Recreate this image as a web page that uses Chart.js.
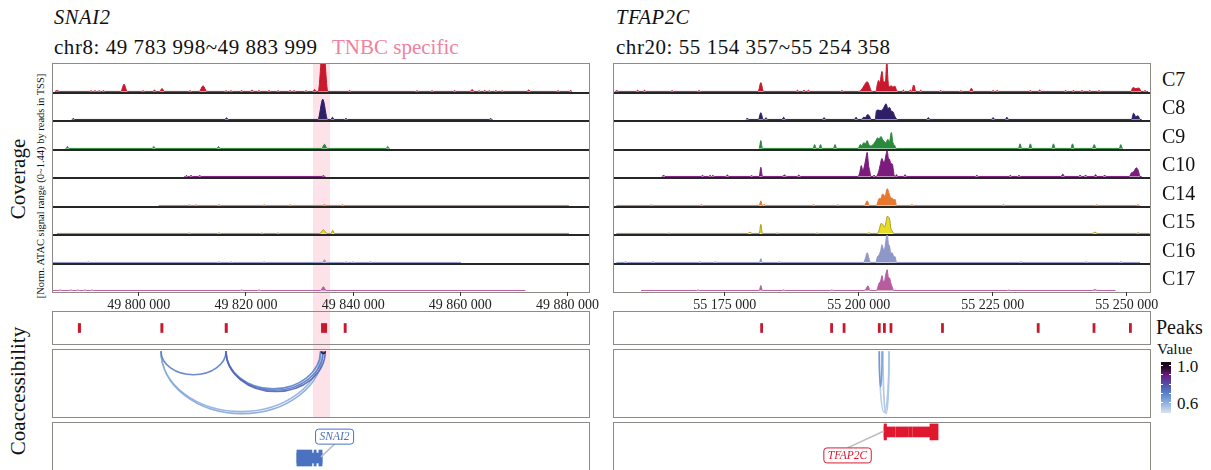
<!DOCTYPE html>
<html>
<head>
<meta charset="utf-8">
<script src="https://cdn.jsdelivr.net/npm/chart.js@4.4.1/dist/chart.umd.min.js"></script>
<style>
  body { margin:0; width:1211px; height:470px; overflow:hidden; background:#fff;
         font-family:"Liberation Serif","DejaVu Serif",serif; color:#111; position:relative; }
  .box { position:absolute; box-sizing:border-box; border:1.5px solid #8e8a86; }
  .sep { position:absolute; height:1.5px; background:#262626; }
  .txt { position:absolute; white-space:nowrap; line-height:1; }
  .rot { position:absolute; white-space:nowrap; line-height:1; transform:translate(-50%,-50%) rotate(-90deg); }
  canvas { position:absolute; }
</style>
</head>
<body>
<div id="band" style="position:absolute;left:313px;top:64px;width:17px;height:353px;background:#fde3e9"></div>

<div class="txt" style="left:54px;top:7px;font-size:20.5px;font-style:italic;letter-spacing:0.6px">SNAI2</div>
<div class="txt" style="left:54px;top:37px;font-size:21px;letter-spacing:0.55px">chr8: 49 783 998~49 883 999</div>
<div class="txt" style="left:332px;top:37px;font-size:21px;color:#f2819f">TNBC specific</div>
<div class="txt" style="left:616px;top:7px;font-size:20.5px;font-style:italic;letter-spacing:0.6px">TFAP2C</div>
<div class="txt" style="left:616px;top:37px;font-size:21px;letter-spacing:0.55px">chr20: 55 154 357~55 254 358</div>

<div class="rot" style="left:18px;top:179px;font-size:21px">Coverage</div>
<div class="rot" style="left:41px;top:186px;font-size:10.5px">[Norm. ATAC signal range (0~1.44) by reads in TSS]</div>
<div class="rot" style="left:18px;top:391px;font-size:21px">Coaccessibility</div>

<div class="txt" style="left:1156px;top:317px;font-size:20px">Peaks</div>
<div class="txt" style="left:1157px;top:341px;font-size:15.5px">Value</div>
<div id="cbar" style="position:absolute;left:1161px;top:362px;width:10px;height:51px"></div>
<div class="txt" style="left:1177px;top:358px;font-size:17px">1.0</div>
<div class="txt" style="left:1177px;top:395px;font-size:17px">0.6</div>

<div id="root"></div>

<script>
// ---- tracks ----
const trackNames = ['C7', 'C8', 'C9', 'C10', 'C14', 'C15', 'C16', 'C17'];
const trackColors = ['#c8182d', '#2f1f66', '#2a8a3c', '#7b1b7b', '#e6792e', '#e8dc26', '#8e97c8', '#b85ca0'];
const lineColors  = ['#c8182d', '#2f1f66', '#2a8a3c', '#7b1b7b', '#e6792e', '#a89a1c', '#8e97c8', '#b85ca0'];

// ---- SNAI2 region ----
const snaiRange = [49783998, 49883999];
const snaiTicks = [49800000, 49820000, 49840000, 49860000, 49880000];
const snaiSpans = [
  [49784370, 49880850], [49787500, 49866000], [49786300, 49846800], [49808500, 49834800],
  [49803700, 49880250], [49784750, 49880250], [49784000, 49860110], [49784000, 49872130]
];
// isolated peaks: [centre bp, signal, half width bp]
const snaiPeaks = [
  [[49784750, 0.05, 400], [49791100, 0.04, 250], [49791840, 0.04, 250], [49792600, 0.04, 250], [49793400, 0.04, 250],
   [49797250, 0.38, 600], [49800800, 0.04, 250], [49802940, 0.07, 300], [49804340, 0.16, 400], [49809560, 0.04, 250],
   [49811990, 0.30, 700], [49816280, 0.04, 250], [49817200, 0.04, 250], [49819170, 0.05, 250], [49821130, 0.08, 300],
   [49822400, 0.05, 250], [49824300, 0.05, 250], [49826000, 0.04, 250], [49828220, 0.05, 250], [49829000, 0.04, 250],
   [49831210, 0.04, 250], [49832815, 0.10, 350], [49834380, 2.60, 900], [49839330, 0.05, 250], [49851920, 0.04, 250],
   [49854720, 0.04, 250], [49858940, 0.04, 250], [49862190, 0.10, 350], [49863500, 0.04, 200], [49864540, 0.05, 250],
   [49865400, 0.05, 200], [49866610, 0.05, 250], [49867800, 0.04, 200], [49872770, 0.09, 300], [49878230, 0.04, 250],
   [49880570, 0.05, 250]],
  [[49787790, 0.05, 250], [49816380, 0.09, 300], [49834330, 1.10, 900], [49836140, 0.12, 300], [49838670, 0.06, 250],
   [49865640, 0.05, 250]],
  [[49786690, 0.10, 300], [49802810, 0.10, 300], [49814880, 0.10, 300], [49834640, 0.22, 500], [49846460, 0.10, 300]],
  [[49808910, 0.06, 200], [49809750, 0.06, 250], [49811370, 0.05, 250], [49834440, 0.05, 250]],
  [[49809430, 0.03, 250], [49810720, 0.03, 250], [49814960, 0.04, 250], [49823390, 0.03, 250], [49828260, 0.03, 250],
   [49834640, 0.05, 250], [49838020, 0.04, 250]],
  [[49809430, 0.03, 250], [49814960, 0.04, 250], [49823000, 0.03, 250], [49826000, 0.03, 250], [49834440, 0.20, 650],
   [49836190, 0.17, 300]],
  [[49790590, 0.03, 250], [49814960, 0.03, 250], [49817200, 0.03, 250], [49823390, 0.03, 250], [49834640, 0.14, 350],
   [49838670, 0.03, 250], [49839960, 0.03, 250], [49843210, 0.03, 250]],
  [[49785380, 0.03, 250], [49787340, 0.03, 250], [49788650, 0.03, 250], [49789930, 0.03, 250], [49791240, 0.03, 250],
   [49819170, 0.03, 250], [49822420, 0.03, 250], [49834440, 0.20, 500]]
];
const snaiClusters = [[], [], [], [], [], [], [], []];

// ---- TFAP2C region ----
const tfapRange = [55154357, 55254358];
const tfapTicks = [55175000, 55200000, 55225000, 55250000];
const tfapSpans = [
  [55154500, 55254000], [55179000, 55252800], [55181400, 55249300], [55163300, 55252800],
  [55154800, 55252500], [55154800, 55254300], [55154800, 55252500], [55159400, 55247940]
];
const tfapPeaks = [
  [[55154900, 0.05, 300], [55158760, 0.06, 250], [55160050, 0.06, 250], [55165200, 0.05, 250], [55170220, 0.05, 250],
   [55181750, 0.46, 500], [55188580, 0.06, 250], [55189800, 0.07, 250], [55190640, 0.06, 250], [55196890, 0.05, 250],
   [55208340, 0.07, 250], [55209630, 0.08, 200], [55210280, 0.34, 400], [55211570, 0.06, 250], [55215300, 0.04, 250],
   [55219090, 0.04, 250], [55221030, 0.17, 350], [55225080, 0.05, 250], [55225870, 0.05, 250], [55232040, 0.05, 250],
   [55233780, 0.08, 250], [55238610, 0.05, 250], [55240080, 0.05, 250], [55241690, 0.05, 250], [55243110, 0.05, 250],
   [55244840, 0.05, 250], [55253430, 0.05, 250]],
  [[55179230, 0.08, 220], [55181750, 0.37, 450], [55182720, 0.10, 250], [55186010, 0.12, 300], [55193550, 0.10, 300],
   [55199520, 0.12, 300], [55212990, 0.10, 300], [55225080, 0.10, 300], [55227660, 0.12, 300]],
  [[55181750, 0.41, 300], [55191790, 0.20, 300], [55192890, 0.20, 300], [55195600, 0.20, 300], [55230120, 0.24, 300],
   [55232040, 0.24, 300], [55236350, 0.24, 300], [55239900, 0.24, 300], [55243950, 0.20, 350], [55248910, 0.20, 300]],
  [[55163600, 0.08, 250], [55170870, 0.06, 250], [55172290, 0.06, 250], [55172800, 0.06, 240], [55175500, 0.08, 300],
   [55180020, 0.05, 250], [55181750, 0.50, 300], [55186150, 0.08, 400], [55188840, 0.08, 300], [55202880, 0.08, 200],
   [55207060, 0.10, 200], [55208660, 0.10, 250], [55222060, 0.07, 250], [55228310, 0.06, 250], [55229910, 0.06, 250],
   [55238090, 0.13, 300], [55241320, 0.08, 250], [55242340, 0.08, 250], [55244210, 0.10, 250], [55245890, 0.08, 250]],
  [[55161340, 0.03, 250], [55170670, 0.04, 250], [55181750, 0.24, 300], [55182390, 0.06, 200], [55191600, 0.04, 250],
   [55196100, 0.03, 250], [55209950, 0.04, 250], [55227020, 0.04, 250], [55244400, 0.03, 250], [55252140, 0.04, 250]],
  [[55164570, 0.02, 250], [55179700, 0.07, 400], [55181750, 0.50, 280], [55184850, 0.03, 250], [55192240, 0.03, 250],
   [55201910, 0.05, 200], [55244080, 0.08, 400], [55252140, 0.04, 250]],
  [[55156510, 0.04, 250], [55161660, 0.04, 250], [55170350, 0.04, 250], [55173240, 0.03, 250], [55181750, 0.20, 250],
   [55185170, 0.03, 250], [55230230, 0.04, 250], [55242470, 0.03, 250], [55248910, 0.04, 250]],
  [[55170000, 0.03, 250], [55181750, 0.27, 280], [55186000, 0.03, 250], [55195000, 0.03, 250], [55228000, 0.02, 250],
   [55244080, 0.05, 400]]
];
// dense peak groups, read point by point: [bp, signal]
const tfapClusters = [
  [[[55200000, 0], [55200600, 0.12], [55201000, 0.30], [55201570, 0.51], [55202000, 0.30], [55202300, 0.05], [55202600, 0]],
   [[55203200, 0], [55203510, 0.40], [55203710, 0.58], [55203950, 0.45], [55204350, 1.05], [55204650, 0.50], [55205000, 0.50],
    [55205250, 1.60], [55205500, 0.50], [55205800, 0.25], [55206090, 0.30], [55206400, 0.22], [55206740, 0.28], [55207100, 0.05], [55207300, 0]],
   [[55250800, 0], [55251170, 0.20], [55251700, 0.15], [55252330, 0.18], [55252700, 0]]],
  [[[55200500, 0], [55200940, 0.12], [55201300, 0.10], [55201590, 0.25], [55202000, 0.20], [55202300, 0]],
   [[55203100, 0], [55203300, 0.45], [55203510, 0.51], [55203800, 0.50], [55204160, 0.48], [55204600, 0.60], [55205120, 0.85],
    [55205450, 0.60], [55205770, 0.65], [55206100, 0.45], [55206420, 0.42], [55206700, 0.20], [55206930, 0.08], [55207200, 0]],
   [[55250900, 0], [55251300, 0.34], [55251700, 0.15], [55252140, 0.20], [55252500, 0]]],
  [[[55199900, 0], [55200300, 0.20], [55200600, 0.15], [55200940, 0.30], [55201300, 0.25], [55201590, 0.41], [55201900, 0.20],
    [55202230, 0.13], [55202500, 0.15], [55202880, 0.27], [55203200, 0.40], [55203510, 0.55], [55203800, 0.50], [55204160, 0.63],
    [55204500, 0.45], [55204800, 0.35], [55205100, 0.30], [55205450, 0.48], [55205750, 0.35], [55206090, 0.84], [55206400, 0.30],
    [55206740, 0.15], [55207000, 0]]],
  [[[55199900, 0], [55200200, 0.20], [55200490, 0.59], [55200750, 0.35], [55200940, 0.42], [55201300, 0.90], [55201590, 1.31],
    [55201850, 0.60], [55202040, 0.34], [55202300, 0]],
   [[55203300, 0], [55203710, 0.25], [55204000, 0.60], [55204350, 0.98], [55204600, 0.80], [55204800, 0.78], [55205050, 1.10],
    [55205320, 1.41], [55205550, 1.00], [55205770, 0.93], [55206000, 0.70], [55206290, 0.68], [55206500, 0.30], [55206610, 0.08], [55206800, 0]],
   [[55250500, 0], [55250900, 0.20], [55251300, 0.25], [55251800, 0.47], [55252200, 0.30], [55252500, 0]]],
  [[[55201100, 0], [55201590, 0.24], [55202000, 0]],
   [[55203300, 0], [55203850, 0.37], [55204100, 0.35], [55204480, 0.60], [55204930, 0.48], [55205320, 0.88], [55205770, 0.55],
    [55206000, 0.40], [55206290, 0.38], [55206550, 0.30], [55206800, 0.32], [55207060, 0]]],
  [[[55203500, 0], [55203850, 0.20], [55204160, 0.54], [55204480, 0.50], [55204800, 0.35], [55205100, 0.60], [55205320, 0.93],
    [55205600, 0.88], [55205770, 0.80], [55206000, 0.30], [55206290, 0.12], [55206550, 0]]],
  [[[55200900, 0], [55201300, 0.25], [55201590, 0.51], [55201900, 0.25], [55202200, 0]],
   [[55203200, 0], [55203500, 0.30], [55203850, 0.42], [55204100, 0.60], [55204350, 0.93], [55204600, 0.70], [55204800, 0.65],
    [55205050, 1.10], [55205320, 1.50], [55205550, 1.00], [55205770, 0.85], [55206000, 0.50], [55206290, 0.50], [55206550, 0.30],
    [55206800, 0.30], [55207060, 0]]],
  [[[55201000, 0], [55201400, 0.10], [55201750, 0.25], [55202100, 0]],
   [[55203300, 0], [55203850, 0.42], [55204100, 0.50], [55204350, 0.81], [55204600, 0.50], [55204800, 0.50], [55205050, 0.85],
    [55205320, 1.13], [55205550, 0.70], [55205770, 0.68], [55206000, 0.40], [55206290, 0.17], [55206500, 0]]]
];

// ---- called peaks [start, end] ----
const snaiPeakCalls = [[49788700, 49789150], [49804100, 49804520], [49816100, 49816540], [49834070, 49834550],
  [49834600, 49835070], [49838300, 49838720]];
const tfapPeakCalls = [[55181700, 55182100], [55194750, 55195150], [55197080, 55197480], [55203650, 55204050],
  [55204600, 55205000], [55205830, 55206230], [55215440, 55215840], [55233300, 55233700], [55243710, 55244110],
  [55250500, 55250900]];

// ---- co-accessibility links ----
const snaiLinkStart = [49804150, 49804150, 49816280, 49816280, 49816280, 49804150, 49834070];
const snaiLinkEnd   = [49834000, 49834380, 49833900, 49834380, 49834800, 49816280, 49834800];
const snaiLinkValue = [0.60, 0.62, 0.70, 0.72, 0.76, 0.71, 0.98];
const snaiLinkDepth = [0.92, 0.95, 0.58, 0.60, 0.62, 0.37, 0.05];
const tfapLinkStart = [55203850, 55204550, 55203850];
const tfapLinkEnd   = [55205670, 55205670, 55204370];
const tfapLinkValue = [0.55, 0.56, 0.66];
const tfapLinkDepth = [0.93, 0.95, 0.55];

// ---- colour scale (Value) ----
const valueStops  = [0.49, 0.58, 0.69, 0.79, 0.90, 0.97, 1.04];
const valueColors = ['#d8e3f2', '#9cb8e2', '#5b88cc', '#5054ae', '#6a1a80', '#2c0b30', '#120812'];

// ---- genes ----
const snaiGeneBody  = [[49829500, 49834200]];
const snaiGeneExons = [[49829500, 49832300], [49832700, 49833100], [49833600, 49834200]];
const tfapGeneBody  = [[55204740, 55206750], [55206900, 55208600], [55208700, 55209300], [55209400, 55210000], [55210100, 55213300]];
const tfapGeneExons = [[55204740, 55205200], [55213300, 55214820]];

// ---- helpers ----
function hexToRgb(h) { return [1, 3, 5].map(i => parseInt(h.substr(i, 2), 16)); }
function valueColor(v) {
  let i = 0;
  while (i < valueStops.length - 2 && v > valueStops[i + 1]) i++;
  const t = Math.max(0, Math.min(1, (v - valueStops[i]) / (valueStops[i + 1] - valueStops[i])));
  const a = hexToRgb(valueColors[i]), b = hexToRgb(valueColors[i + 1]);
  const c = a.map((x, k) => Math.round(x + (b[k] - x) * t));
  return `rgb(${c[0]},${c[1]},${c[2]})`;
}
function fmt(v) { return String(v).replace(/\B(?=(\d{3})+(?!\d))/g, ' '); }

function buildTrack(span, peaks, clusters) {
  const pts = [{x: span[0], y: 0}, {x: span[1], y: 0}];
  peaks.forEach(([c, h, w]) => pts.push({x: c - w, y: 0}, {x: c, y: h}, {x: c + w, y: 0}));
  clusters.forEach(cl => cl.forEach(([x, y]) => pts.push({x, y})));
  pts.sort((a, b) => a.x - b.x);
  const out = [];
  pts.forEach(p => {
    const last = out[out.length - 1];
    if (last && last.x === p.x) last.y = Math.max(last.y, p.y);
    else out.push({x: p.x, y: p.y});
  });
  return out;
}

function makeCanvas(left, top, w, h) {
  const cv = document.createElement('canvas');
  cv.width = w; cv.height = h;
  cv.style.left = left + 'px'; cv.style.top = top + 'px';
  cv.style.width = w + 'px'; cv.style.height = h + 'px';
  document.getElementById('root').appendChild(cv);
  return cv;
}
function addDiv(cls, css) {
  const d = document.createElement('div');
  d.className = cls;
  d.style.cssText = css;
  document.getElementById('root').appendChild(d);
  return d;
}

function baseOptions(range, yMin, yMax, extra) {
  return Object.assign({
    responsive: false,
    animation: false,
    devicePixelRatio: 1,
    events: [],
    layout: {padding: 0},
    plugins: {legend: {display: false}, tooltip: {enabled: false}},
    scales: {
      x: {type: 'linear', min: range[0], max: range[1], display: false},
      y: {type: 'linear', min: yMin, max: yMax, display: false}
    }
  }, extra || {});
}

// arcs hanging from the top of the co-accessibility box
const arcPlugin = {
  id: 'arcs',
  afterDatasetsDraw(chart, args, o) {
    const {ctx, chartArea, scales: {x, y}} = chart;
    const order = o.value.map((v, i) => i).sort((a, b) => o.value[a] - o.value[b]);
    ctx.save();
    ctx.beginPath();
    ctx.rect(chartArea.left, chartArea.top, chartArea.width, chartArea.height);
    ctx.clip();
    order.forEach(i => {
      const x0 = x.getPixelForValue(o.start[i]), x1 = x.getPixelForValue(o.end[i]);
      const top = y.getPixelForValue(0.02), bottom = y.getPixelForValue(o.depth[i]);
      ctx.strokeStyle = valueColor(o.value[i]);
      ctx.lineWidth = 1.6;
      ctx.globalAlpha = 0.9;
      ctx.beginPath();
      ctx.ellipse((x0 + x1) / 2, top, Math.max((x1 - x0) / 2, 0.5), bottom - top, 0, 0, Math.PI);
      ctx.stroke();
    });
    ctx.restore();
  }
};

// gene name tag with connector
const geneLabelPlugin = {
  id: 'geneLabel',
  afterDatasetsDraw(chart, args, o) {
    const {ctx, scales: {x, y}} = chart;
    const lx = x.getPixelForValue(o.labelX), ly = y.getPixelForValue(o.labelY);
    const gx = x.getPixelForValue(o.anchorX), gy = y.getPixelForValue(o.anchorY);
    ctx.save();
    ctx.font = 'italic 11.5px "Liberation Serif", serif';
    const w = ctx.measureText(o.text).width + 8, h = 15;
    const ey = gy > ly ? ly + h / 2 : ly - h / 2;
    ctx.strokeStyle = '#bdbdbd';
    ctx.lineWidth = 1.5;
    ctx.beginPath(); ctx.moveTo(gx, gy); ctx.lineTo(lx, ey); ctx.stroke();
    ctx.fillStyle = '#fff';
    ctx.strokeStyle = o.color;
    ctx.lineWidth = 1;
    ctx.beginPath();
    ctx.roundRect(lx - w / 2, ly - h / 2, w, h, 3);
    ctx.fill(); ctx.stroke();
    ctx.fillStyle = o.color;
    ctx.textAlign = 'center'; ctx.textBaseline = 'middle';
    ctx.fillText(o.text, lx, ly + 0.5);
    ctx.restore();
  }
};

const plotW = 536;
const trackTops = [0, 29, 57, 86, 114, 143, 171, 200, 228];
const covTop = 64;

function makePanel(p) {
  const L = p.left;
  // boxes
  addDiv('box', `left:${L - 1}px;top:${covTop - 1}px;width:${plotW + 2}px;height:${trackTops[8] + 2}px`);
  addDiv('box', `left:${L - 1}px;top:311px;width:${plotW + 2}px;height:34px`);
  addDiv('box', `left:${L - 1}px;top:349px;width:${plotW + 2}px;height:69px`);
  addDiv('box', `left:${L - 1}px;top:422px;width:${plotW + 2}px;height:70px`);
  for (let i = 1; i < 8; i++) {
    addDiv('sep', `left:${L}px;width:${plotW}px;top:${covTop + trackTops[i] - 1}px`);
  }

  // coverage tracks
  for (let i = 0; i < 8; i++) {
    const h = trackTops[i + 1] - trackTops[i];
    const cv = makeCanvas(L, covTop + trackTops[i], plotW, h - 1);
    new Chart(cv, {
      type: 'line',
      data: {datasets: [{
        data: buildTrack(p.spans[i], p.peaks[i], p.clusters[i]),
        borderColor: lineColors[i],
        backgroundColor: trackColors[i],
        borderWidth: 1,
        pointRadius: 0,
        fill: 'origin',
        cubicInterpolationMode: 'monotone'
      }]},
      options: baseOptions(p.range, -0.03, 1.44)
    });
  }

  // genomic axis: a 20 px plot band above the axis line, which sits on the box bottom
  const pad = 45;
  const ax = makeCanvas(L - pad, 272, plotW + 2 * pad, 50);
  new Chart(ax, {
    type: 'line',
    data: {datasets: [{data: []}]},
    options: baseOptions(p.range, 0, 1, {
      layout: {padding: {left: pad, right: pad, top: 0, bottom: 0}},
      scales: {
        x: {
          type: 'linear', min: p.range[0], max: p.range[1], position: 'bottom',
          afterBuildTicks: s => { s.ticks = p.ticks.map(v => ({value: v})); },
          afterFit: s => { s.height = 30; },
          ticks: {callback: v => fmt(v), color: '#222', padding: 1, maxRotation: 0, autoSkip: false,
                  font: {family: '"Liberation Serif", serif', size: 14}},
          grid: {drawOnChartArea: false, drawTicks: true, tickLength: 4, color: '#333'},
          border: {display: false}
        },
        y: {display: false, min: 0, max: 1}
      }
    })
  });

  // called peaks
  const pk = makeCanvas(L, 312, plotW, 32);
  new Chart(pk, {
    type: 'bar',
    data: {labels: ['peaks'], datasets: [{
      data: p.calls.map(c => ({x: c, y: 'peaks'})),
      backgroundColor: '#c8182d', barThickness: 9, borderWidth: 0, minBarLength: 2
    }]},
    options: baseOptions(p.range, 0, 1, {
      indexAxis: 'y',
      scales: {
        x: {type: 'linear', min: p.range[0], max: p.range[1], display: false},
        y: {type: 'category', display: false}
      }
    })
  });

  // co-accessibility
  const co = makeCanvas(L, 350, plotW, 67);
  new Chart(co, {
    type: 'scatter',
    data: {datasets: [{data: p.linkStart.map(s => ({x: s, y: 0})), pointRadius: 0}]},
    options: baseOptions(p.range, 0, 1, {
      scales: {
        x: {type: 'linear', min: p.range[0], max: p.range[1], display: false},
        y: {type: 'linear', min: 0, max: 1, reverse: true, display: false}
      },
      plugins: {legend: {display: false}, tooltip: {enabled: false},
        arcs: {start: p.linkStart, end: p.linkEnd, value: p.linkValue, depth: p.linkDepth}}
    }),
    plugins: [arcPlugin]
  });

  // gene model
  const gn = makeCanvas(L, 423, plotW, 47);
  new Chart(gn, {
    type: 'bar',
    data: {datasets: [
      {data: p.geneBody.map(b => ({x: b, y: p.geneRow})), backgroundColor: p.geneColor,
       barThickness: 10, grouped: false, borderWidth: 0},
      {data: p.geneExons.map(b => ({x: b, y: p.geneRow})), backgroundColor: p.geneColor,
       barThickness: 16, grouped: false, borderWidth: 0}
    ]},
    options: baseOptions(p.range, 0, 1, {
      indexAxis: 'y',
      scales: {
        x: {type: 'linear', min: p.range[0], max: p.range[1], display: false},
        y: {type: 'linear', min: 0, max: 1, reverse: true, offset: false, display: false}
      },
      plugins: {legend: {display: false}, tooltip: {enabled: false},
        geneLabel: {text: p.geneName, color: p.geneColor, labelX: p.labelX, labelY: p.labelRow,
                    anchorX: p.anchorX, anchorY: p.anchorRow}}
    }),
    plugins: [geneLabelPlugin]
  });
}

makePanel({
  left: 53, range: snaiRange, ticks: snaiTicks, spans: snaiSpans, peaks: snaiPeaks, clusters: snaiClusters,
  calls: snaiPeakCalls, linkStart: snaiLinkStart, linkEnd: snaiLinkEnd, linkValue: snaiLinkValue, linkDepth: snaiLinkDepth,
  geneBody: snaiGeneBody, geneExons: snaiGeneExons, geneRow: 0.745, geneColor: '#4a72c0', geneName: 'SNAI2',
  labelX: 49836530, labelRow: 0.29, anchorX: 49834000, anchorRow: 0.72
});
makePanel({
  left: 614, range: tfapRange, ticks: tfapTicks, spans: tfapSpans, peaks: tfapPeaks, clusters: tfapClusters,
  calls: tfapPeakCalls, linkStart: tfapLinkStart, linkEnd: tfapLinkEnd, linkValue: tfapLinkValue, linkDepth: tfapLinkDepth,
  geneBody: tfapGeneBody, geneExons: tfapGeneExons, geneRow: 0.19, geneColor: '#e0182f', geneName: 'TFAP2C',
  labelX: 55197930, labelRow: 0.69, anchorX: 55204740, anchorRow: 0.17
});

// track names on the right
trackNames.forEach((n, i) => {
  const mid = covTop + (trackTops[i] + trackTops[i + 1]) / 2;
  addDiv('txt', `left:1162px;top:${mid - 10}px;font-size:20px`).textContent = n;
});

// colour bar for link values
(function () {
  const lo = 0.49, hi = 1.04;
  const stops = valueStops.map((v, i) => `${valueColors[i]} ${((v - lo) / (hi - lo) * 100).toFixed(1)}%`);
  const cb = document.getElementById('cbar');
  cb.style.background = `linear-gradient(to top, ${stops.join(', ')})`;
  [0.6, 0.7, 0.8, 0.9, 1.0].forEach(v => {
    const y = (hi - v) / (hi - lo) * 51;
    ['0px', '8px'].forEach(lx => {
      const t = document.createElement('div');
      t.style.cssText = `position:absolute;left:${lx};top:${y - 0.5}px;width:2px;height:1px;background:#fff`;
      cb.appendChild(t);
    });
  });
})();
</script>
</body>
</html>
